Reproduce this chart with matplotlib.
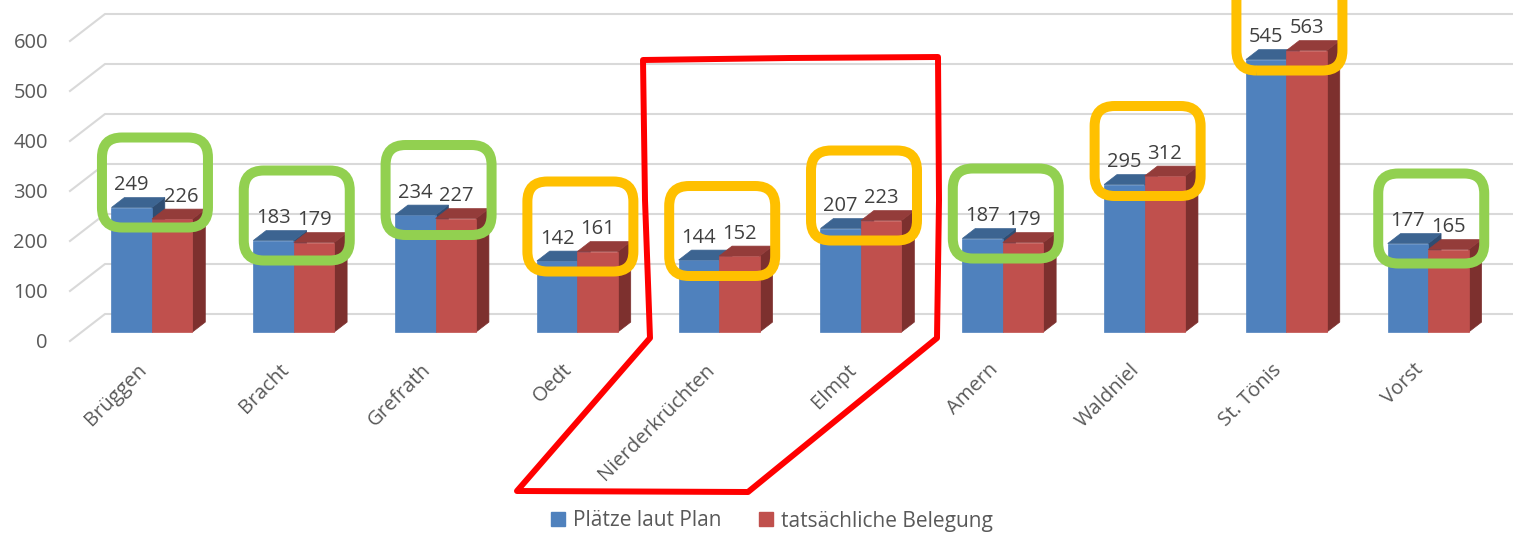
import matplotlib
matplotlib.use("Agg")
import matplotlib.pyplot as plt
import matplotlib.transforms as mtransforms
from matplotlib.patches import Polygon, FancyBboxPatch, Patch

plt.rcParams['font.family'] = ['Open Sans', 'DejaVu Sans']

# data
orte = ["Brüggen", "Bracht", "Grefrath", "Oedt", "Nierderkrüchten",
        "Elmpt", "Amern", "Waldniel", "St. Tönis", "Vorst"]
plan = [249, 183, 234, 142, 144, 207, 187, 295, 545, 177]
belegung = [226, 179, 227, 161, 152, 223, 179, 312, 563, 165]
y_ticks = [0, 100, 200, 300, 400, 500, 600]
series_names = ["Plätze laut Plan", "tatsächliche Belegung"]

W, H = 1513, 533
fig = plt.figure(figsize=(W / 100, H / 100), dpi=100)
ax = fig.add_axes([0, 0, 1, 1])
ax.set_xlim(-0.9894, 9.680)
ax.set_ylim(-384, 682)
ax.axis("off")

# fake 3d: depth d=0 front plane, d=1 back wall
DX = 35 / 141.8
DY = 54.0
d0, d1 = 0.333, 0.70
bw = 0.2856


def pt(x, v, d):
    return (x + d * DX, v + d * DY)


grid_c = "#D9D9D9"
xg = -0.4958
for v in y_ticks:
    ax.plot([xg, xg + DX, 9.8], [v, v + DY, v + DY], color=grid_c, lw=1.5, zorder=1)
    ax.text(-0.651, v - 14, str(v), ha="right", va="baseline", fontsize=14.5, color="#595959")

blue = ("#4F81BD", "#3C6491", "#2F4D72")
red = ("#C0504D", "#943C3A", "#7D302E")


def bar3d(x0, x1, v, cols):
    front, top, side = cols
    faces = [
        ([pt(x1, 0, d0), pt(x1, 0, d1), pt(x1, v, d1), pt(x1, v, d0)], side),
        ([pt(x0, 0, d0), pt(x1, 0, d0), pt(x1, v, d0), pt(x0, v, d0)], front),
        ([pt(x0, v, d0), pt(x1, v, d0), pt(x1, v, d1), pt(x0, v, d1)], top),
    ]
    for verts, c in faces:
        ax.add_patch(Polygon(verts, closed=True, facecolor=c, edgecolor=c, lw=0.5, zorder=3))


for i, (p, b) in enumerate(zip(plan, belegung)):
    bar3d(i - bw, i, p, blue)
    bar3d(i, i + bw, b, red)
    xb, yb = pt(i - bw / 2, p, d0)
    ax.text(xb, yb + 35, str(p), ha="center", va="baseline", fontsize=14.5, color="#404040", zorder=5)
    nudge = 0.0635 if i == 0 else 0
    xr, yr = pt(i + bw / 2, b, d0)
    ax.text(xr + nudge, yr + 35, str(b), ha="center", va="baseline", fontsize=14.5, color="#404040", zorder=5)
    # category label
    ax.text(i + d0 * DX - 0.056, -52, orte[i], rotation=45, rotation_mode="anchor",
            ha="right", va="center", fontsize=14.5, color="#595959")
    # highlight box: green if under plan, orange if over
    col = "#92D050" if b <= p else "#FFC000"
    bx, by = pt(i + 3 / 141.8, max(p, b), d0)
    tr = fig.dpi_scale_trans + mtransforms.ScaledTranslation(bx, by + 50, ax.transData)
    ax.add_patch(FancyBboxPatch((-0.53, -0.45), 1.06, 0.90,
                                boxstyle="round,pad=0,rounding_size=0.2",
                                facecolor="none", edgecolor=col, lw=7.2,
                                transform=tr, zorder=6, clip_on=False))

# red hand-drawn outline around Niederkrüchten / Elmpt
red_outline = [(643, 60), (790, 58), (938, 57), (939, 200), (937, 338),
               (748, 492), (517, 491), (650, 338), (645, 200), (643, 60)]
ax.add_patch(Polygon([(x / W, 1 - y / H) for x, y in red_outline], closed=True,
                     facecolor="none", edgecolor="#FF0000", lw=4.3,
                     joinstyle="round", transform=fig.transFigure, zorder=7, clip_on=False))

handles = [Patch(color=blue[0], label=series_names[0]),
           Patch(color=red[0], label=series_names[1])]
leg = fig.legend(handles=handles, loc="center", bbox_to_anchor=(772 / W, 12 / H),
                 ncol=2, frameon=False, fontsize=15, handlelength=0.65, handleheight=0.65,
                 handletextpad=0.4, columnspacing=1.8, labelcolor="#595959")

fig.savefig("out.png", dpi=100)
